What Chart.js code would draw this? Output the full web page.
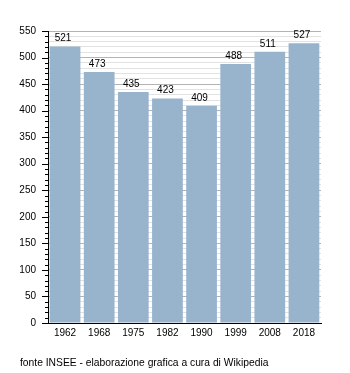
<!DOCTYPE html>
<html>
<head>
<meta charset="utf-8">
<script src="https://cdn.jsdelivr.net/npm/chart.js@4"></script>
<style>
  html, body { margin: 0; padding: 0; background: #fff; }
  #wrap { position: relative; width: 350px; height: 373px; }
  #grafico { display: block; }
  #fonte { position: absolute; left: 20px; top: 357px; font: 10.3px "Liberation Sans", Arial, sans-serif; color: #000; white-space: nowrap; }
</style>
</head>
<body>
<div id="wrap">
  <canvas id="grafico" width="350" height="373"></canvas>
  <div id="fonte">fonte INSEE - elaborazione grafica a cura di Wikipedia</div>
</div>
<script>
// Popolazione per anno di censimento
const anni = ["1962", "1968", "1975", "1982", "1990", "1999", "2008", "2018"];
const abitanti = [521, 473, 435, 423, 409, 488, 511, 527];

const fontBase = { family: "'Liberation Sans', Arial, sans-serif", size: 10 };

// etichette sopra le barre + tacche dell'asse y
const extra = {
  id: "extra",
  afterDatasetsDraw(chart) {
    const c = chart.ctx;
    c.save();
    c.fillStyle = "#000";
    c.font = "10px 'Liberation Sans', Arial, sans-serif";
    c.textAlign = "center";
    c.textBaseline = "alphabetic";
    chart.getDatasetMeta(0).data.forEach((bar, i) => {
      c.fillText(abitanti[i], bar.x - 2, bar.y - 5);
    });
    const y = chart.scales.y;
    c.strokeStyle = "#000";
    c.lineWidth = 1;
    for (let v = 0; v <= 550; v += 10) {
      const py = Math.round(y.getPixelForValue(v)) + 0.5;
      const len = v % 50 === 0 ? 6 : 3;
      c.beginPath();
      c.moveTo(y.right - len, py);
      c.lineTo(y.right, py);
      c.stroke();
    }
    c.restore();
  }
};

new Chart(document.getElementById("grafico"), {
  type: "bar",
  data: {
    labels: anni,
    datasets: [{
      data: abitanti,
      backgroundColor: "#98b3cc",
      barPercentage: 0.9,
      categoryPercentage: 1
    }]
  },
  options: {
    responsive: false,
    animation: false,
    layout: { padding: { top: 31, right: 29, left: 0, bottom: 0 } },
    plugins: { legend: { display: false }, tooltip: { enabled: false } },
    scales: {
      x: {
        afterFit(s) { s.height = 50; },
        grid: { display: false, drawTicks: false },
        border: { color: "#000", width: 1 },
        ticks: { color: "#000", font: fontBase, padding: 4, maxRotation: 0 }
      },
      y: {
        min: 0,
        max: 550,
        afterFit(s) { s.width = 48; },
        grid: {
          drawTicks: false,
          color: ctx => (ctx.tick && ctx.tick.value % 50 === 0) ? "#b4b4b4" : "#e2e2e2"
        },
        border: { color: "#000", width: 1 },
        ticks: {
          stepSize: 10,
          autoSkip: false,
          color: "#000",
          font: fontBase,
          padding: 12,
          callback: v => (v % 50 === 0 ? v : "")
        }
      }
    }
  },
  plugins: [extra]
});
</script>
</body>
</html>
